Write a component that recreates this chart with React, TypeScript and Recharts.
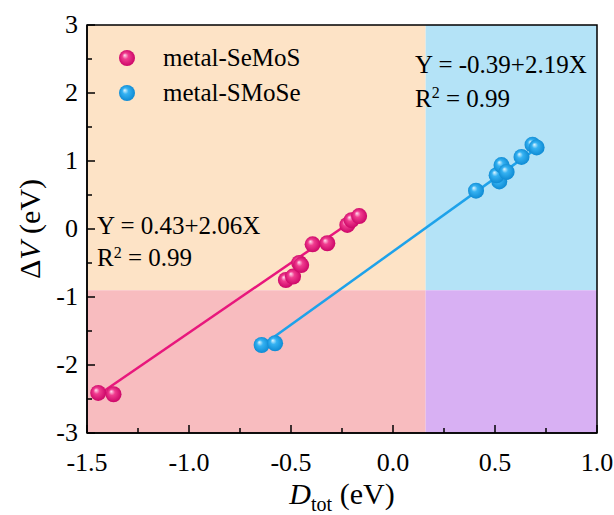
import React from 'react'
import {
  ScatterChart, Scatter, XAxis, YAxis, ReferenceArea, ReferenceLine,
} from 'recharts'

// measured points
const seMoS = [
  { x: -1.445, y: -2.41 }, { x: -1.37, y: -2.43 },
  { x: -0.525, y: -0.75 }, { x: -0.49, y: -0.7 },
  { x: -0.46, y: -0.5 }, { x: -0.45, y: -0.53 },
  { x: -0.394, y: -0.225 }, { x: -0.322, y: -0.21 },
  { x: -0.224, y: 0.06 }, { x: -0.203, y: 0.13 }, { x: -0.166, y: 0.19 },
]
const sMoSe = [
  { x: -0.644, y: -1.706 }, { x: -0.578, y: -1.68 },
  { x: 0.407, y: 0.563 }, { x: 0.521, y: 0.7 }, { x: 0.508, y: 0.79 },
  { x: 0.532, y: 0.94 }, { x: 0.557, y: 0.84 }, { x: 0.63, y: 1.06 },
  { x: 0.684, y: 1.24 }, { x: 0.704, y: 1.2 },
]
// fitted lines, endpoints
const fitSeMoS = [{ x: -1.44, y: -2.43 }, { x: -0.17, y: 0.18 }]
const fitSMoSe = [{ x: -0.64, y: -1.71 }, { x: 0.71, y: 1.2 }]

const xTicks = [-1.5, -1.25, -1, -0.75, -0.5, -0.25, 0, 0.25, 0.5, 0.75, 1]
const yTicks = [-3, -2.5, -2, -1.5, -1, -0.5, 0, 0.5, 1, 1.5, 2, 2.5, 3]
const xDomain = [-1.5, 1]
const yDomain = [-3, 3]
const splitX = 0.16
const splitY = -0.9

const PINK = '#e8177c'
const BLUE = '#1ea2ea'
const FONT = '"Liberation Serif", "Times New Roman", serif'

const isMajor = (v: number, step: number) => Math.abs(v / step - Math.round(v / step)) < 1e-6

const XTick = (p: any) => {
  const v = p.payload.value
  const major = isMajor(v, 0.5)
  return (
    <g>
      <line x1={p.x} x2={p.x} y1={p.y} y2={p.y - (major ? 8 : 5)} stroke="#000" strokeWidth={1.5} />
      {major && (
        <text x={p.x} y={p.y + 38} textAnchor="middle" fontSize={26} fontFamily={FONT} fill="#000">
          {v.toFixed(1)}
        </text>
      )}
    </g>
  )
}

const YTick = (p: any) => {
  const v = p.payload.value
  const major = isMajor(v, 1)
  return (
    <g>
      <line x1={p.x} x2={p.x + (major ? 8 : 5)} y1={p.y} y2={p.y} stroke="#000" strokeWidth={1.5} />
      {major && (
        <text x={p.x - 9} y={p.y + 8} textAnchor="end" fontSize={26} fontFamily={FONT} fill="#000">
          {v}
        </text>
      )}
    </g>
  )
}

const Ball = (color: string) => (p: any) => (
  <circle cx={p.cx} cy={p.cy} r={8} fill={`url(#ball-${color})`} />
)

const LegendBall = ({ id }: { id: string }) => (
  <svg width={18} height={18} style={{ verticalAlign: 'middle' }}>
    <circle cx={9} cy={9} r={8} fill={`url(#ball-${id})`} />
  </svg>
)

export default function App() {
  return (
    <div style={{ position: 'relative', width: 614, height: 515, background: '#fff', fontFamily: FONT }}>
      <style>{'body{margin:0}'}</style>
      <ScatterChart width={614} height={515} margin={{ top: 25, right: 17, left: 0, bottom: 0 }}>
        <defs>
          <radialGradient id="ball-pink" cx="50%" cy="50%" r="55%" fx="35%" fy="32%">
            <stop offset="0%" stopColor="#ffe0ef" />
            <stop offset="35%" stopColor="#f03c8f" />
            <stop offset="100%" stopColor="#c80063" />
          </radialGradient>
          <radialGradient id="ball-blue" cx="50%" cy="50%" r="55%" fx="35%" fy="32%">
            <stop offset="0%" stopColor="#e0f6ff" />
            <stop offset="35%" stopColor="#35b2f2" />
            <stop offset="100%" stopColor="#0a86d0" />
          </radialGradient>
        </defs>
        <XAxis
          type="number" dataKey="x" domain={xDomain} ticks={xTicks} height={82}
          axisLine={{ stroke: '#000', strokeWidth: 1.5 }} tickLine={false} tickSize={0} tickMargin={0}
          tick={XTick} interval={0} allowDataOverflow
        />
        <YAxis
          type="number" dataKey="y" domain={yDomain} ticks={yTicks} width={87}
          axisLine={{ stroke: '#000', strokeWidth: 1.5 }} tickLine={false} tickSize={0} tickMargin={0}
          tick={YTick} interval={0} allowDataOverflow
        />
        <ReferenceArea x1={xDomain[0]} x2={splitX} y1={splitY} y2={yDomain[1]} fill="#fde3c6" fillOpacity={1} stroke="none" />
        <ReferenceArea x1={splitX} x2={xDomain[1]} y1={splitY} y2={yDomain[1]} fill="#b4e3f7" fillOpacity={1} stroke="none" />
        <ReferenceArea x1={xDomain[0]} x2={splitX} y1={yDomain[0]} y2={splitY} fill="#f8bcbf" fillOpacity={1} stroke="none" />
        <ReferenceArea x1={splitX} x2={xDomain[1]} y1={yDomain[0]} y2={splitY} fill="#d8b0f3" fillOpacity={1} stroke="none" />
        <ReferenceLine segment={fitSeMoS} stroke={PINK} strokeWidth={2.5} />
        <ReferenceLine segment={fitSMoSe} stroke={BLUE} strokeWidth={2.5} />
        <Scatter name="metal-SeMoS" data={seMoS} shape={Ball('pink')} isAnimationActive={false} />
        <Scatter name="metal-SMoSe" data={sMoSe} shape={Ball('blue')} isAnimationActive={false} />
        <ReferenceArea x1={xDomain[0]} x2={xDomain[1]} y1={yDomain[0]} y2={yDomain[1]} fill="none" stroke="#000" strokeWidth={1.5} />
      </ScatterChart>

      {/* legend */}
      <div style={{ position: 'absolute', left: 118, top: 40, fontSize: 25, lineHeight: '32px', whiteSpace: 'nowrap' }}>
        <div><LegendBall id="pink" /><span style={{ marginLeft: 27, verticalAlign: 'middle' }}>metal-SeMoS</span></div>
        <div><LegendBall id="blue" /><span style={{ marginLeft: 27, verticalAlign: 'middle' }}>metal-SMoSe</span></div>
      </div>

      {/* fit annotations */}
      <div style={{ position: 'absolute', left: 97, top: 210, fontSize: 25, lineHeight: '32px', whiteSpace: 'nowrap' }}>
        <div>Y = 0.43+2.06X</div>
        <div>R<sup style={{ fontSize: 16, verticalAlign: 'top', lineHeight: '22px' }}>2</sup> = 0.99</div>
      </div>
      <div style={{ position: 'absolute', left: 415, top: 48, fontSize: 25, lineHeight: '34px', whiteSpace: 'nowrap' }}>
        <div>Y = -0.39+2.19X</div>
        <div>R<sup style={{ fontSize: 16, verticalAlign: 'top', lineHeight: '22px' }}>2</sup> = 0.99</div>
      </div>

      {/* axis titles */}
      <div style={{ position: 'absolute', left: 0, width: 614, paddingLeft: 70, boxSizing: 'border-box', top: 478, lineHeight: '32px', textAlign: 'center', fontSize: 30, whiteSpace: 'nowrap' }}>
        <i>D</i><sub style={{ fontSize: 20, lineHeight: '10px' }}>tot</sub> (eV)
      </div>
      <div style={{ position: 'absolute', left: 30, top: 229, transform: 'translate(-50%, -50%) rotate(-90deg)', fontSize: 30, whiteSpace: 'nowrap' }}>
        Δ<i>V</i> (eV)
      </div>
    </div>
  )
}
